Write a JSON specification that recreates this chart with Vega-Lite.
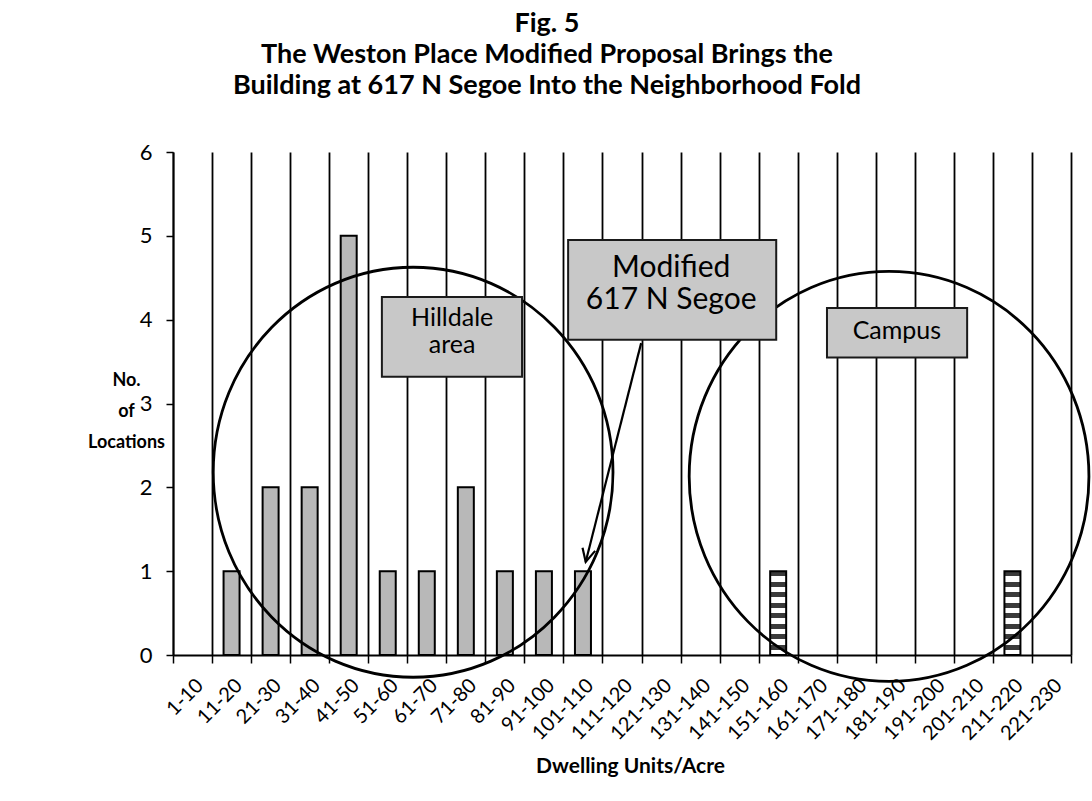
{
  "$schema": "https://vega.github.io/schema/vega-lite/v6.json",
  "width": 898,
  "height": 503,
  "autosize": {"type": "none"},
  "padding": {"left": 173, "top": 152, "right": 21, "bottom": 146},
  "background": "white",
  "config": {
    "view": {"stroke": null},
    "font": "Lato"
  },
  "title": {
    "text": [
      "Fig. 5",
      "The Weston Place Modified Proposal Brings the",
      "Building at 617 N Segoe Into the Neighborhood Fold"
    ],
    "font": "Lato",
    "fontSize": 27,
    "fontWeight": "bold",
    "lineHeight": 31,
    "color": "black",
    "anchor": "middle",
    "frame": "group",
    "dx": -75,
    "offset": 41
  },
  "datasets": {
    "bins": [
      {"range": "1-10", "count": 0, "group": "neighborhood"},
      {"range": "11-20", "count": 1, "group": "neighborhood"},
      {"range": "21-30", "count": 2, "group": "neighborhood"},
      {"range": "31-40", "count": 2, "group": "neighborhood"},
      {"range": "41-50", "count": 5, "group": "neighborhood"},
      {"range": "51-60", "count": 1, "group": "neighborhood"},
      {"range": "61-70", "count": 1, "group": "neighborhood"},
      {"range": "71-80", "count": 2, "group": "neighborhood"},
      {"range": "81-90", "count": 1, "group": "neighborhood"},
      {"range": "91-100", "count": 1, "group": "neighborhood"},
      {"range": "101-110", "count": 1, "group": "neighborhood"},
      {"range": "111-120", "count": 0, "group": "neighborhood"},
      {"range": "121-130", "count": 0, "group": "neighborhood"},
      {"range": "131-140", "count": 0, "group": "neighborhood"},
      {"range": "141-150", "count": 0, "group": "neighborhood"},
      {"range": "151-160", "count": 1, "group": "campus"},
      {"range": "161-170", "count": 0, "group": "campus"},
      {"range": "171-180", "count": 0, "group": "campus"},
      {"range": "181-190", "count": 0, "group": "campus"},
      {"range": "191-200", "count": 0, "group": "campus"},
      {"range": "201-210", "count": 0, "group": "campus"},
      {"range": "211-220", "count": 1, "group": "campus"},
      {"range": "221-230", "count": 0, "group": "campus"}
    ],
    "areas": [
      {"area": "Hilldale", "du": 62.0, "count": 2.18},
      {"area": "Campus", "du": 183.9, "count": 2.13}
    ],
    "notes": [
      {"key": "hilldale", "label": "Hilldale\narea", "du0": 54.0, "du1": 89.9, "c0": 3.32, "c1": 4.27, "du": 72.0, "count": 4.02},
      {"key": "modified", "label": "Modified\n617 N Segoe", "du0": 101.7, "du1": 155.0, "c0": 3.76, "c1": 4.95, "du": 128.1, "count": 4.62},
      {"key": "campus", "label": "Campus", "du0": 168.0, "du1": 203.9, "c0": 3.55, "c1": 4.14, "du": 185.9, "count": 3.87}
    ],
    "pointer": [
      {"du0": 120.4, "c0": 3.72, "du1": 106.2, "c1": 1.11}
    ]
  },
  "layer": [
    {
      "data": {"name": "bins"},
      "mark": {"type": "bar", "width": 16, "stroke": "black", "strokeWidth": 2},
      "encoding": {
        "x": {
          "field": "range",
          "type": "nominal",
          "sort": null,
          "scale": {"paddingInner": 0, "paddingOuter": 0},
          "axis": {
            "title": "Dwelling Units/Acre",
            "titleFont": "Lato",
            "titleFontSize": 21,
            "titleFontWeight": "bold",
            "titleColor": "black",
            "titleBaseline": "alphabetic",
            "titleAlign": "center",
            "titleX": 457,
            "titleY": 117,
            "labelAngle": -45,
            "labelFont": "Lato",
            "labelFontSize": 20,
            "labelColor": "black",
            "labelPadding": 12,
            "tickBand": "extent",
            "grid": true,
            "gridColor": "black",
            "gridOpacity": 1,
            "gridWidth": 1.8,
            "domainColor": "black",
            "domainWidth": 1.8,
            "tickColor": "black",
            "tickWidth": 1.5,
            "tickSize": 8
          }
        },
        "y": {
          "field": "count",
          "type": "quantitative",
          "scale": {"domain": [0, 6]},
          "axis": {
            "values": [0, 1, 2, 3, 4, 5, 6],
            "grid": false,
            "title": ["No.", "of", "Locations"],
            "titleFont": "Lato",
            "titleFontSize": 18,
            "titleFontWeight": "bold",
            "titleColor": "black",
            "titleAngle": 0,
            "titleAlign": "center",
            "titleBaseline": "alphabetic",
            "titleLineHeight": 31,
            "titleX": -47,
            "titleY": 233,
            "labelFont": "Lato",
            "labelFontSize": 22,
            "labelColor": "black",
            "labelPadding": 14,
            "domainColor": "black",
            "domainWidth": 1.8,
            "tickColor": "black",
            "tickWidth": 1.5,
            "tickSize": 7
          }
        },
        "opacity": {"condition": {"test": "datum.count === 0", "value": 0}, "value": 1},
        "fill": {
          "condition": {
            "test": "datum.group === 'campus'",
            "value": {
              "gradient": "linear",
              "x1": 0, "y1": 0, "x2": 0, "y2": 1,
              "stops": [
                {"offset": 0.0, "color": "#3a3a3a"}, {"offset": 0.0625, "color": "#3a3a3a"},
                {"offset": 0.0625, "color": "#ffffff"}, {"offset": 0.125, "color": "#ffffff"},
                {"offset": 0.125, "color": "#3a3a3a"}, {"offset": 0.1875, "color": "#3a3a3a"},
                {"offset": 0.1875, "color": "#ffffff"}, {"offset": 0.25, "color": "#ffffff"},
                {"offset": 0.25, "color": "#3a3a3a"}, {"offset": 0.3125, "color": "#3a3a3a"},
                {"offset": 0.3125, "color": "#ffffff"}, {"offset": 0.375, "color": "#ffffff"},
                {"offset": 0.375, "color": "#3a3a3a"}, {"offset": 0.4375, "color": "#3a3a3a"},
                {"offset": 0.4375, "color": "#ffffff"}, {"offset": 0.5, "color": "#ffffff"},
                {"offset": 0.5, "color": "#3a3a3a"}, {"offset": 0.5625, "color": "#3a3a3a"},
                {"offset": 0.5625, "color": "#ffffff"}, {"offset": 0.625, "color": "#ffffff"},
                {"offset": 0.625, "color": "#3a3a3a"}, {"offset": 0.6875, "color": "#3a3a3a"},
                {"offset": 0.6875, "color": "#ffffff"}, {"offset": 0.75, "color": "#ffffff"},
                {"offset": 0.75, "color": "#3a3a3a"}, {"offset": 0.8125, "color": "#3a3a3a"},
                {"offset": 0.8125, "color": "#ffffff"}, {"offset": 0.875, "color": "#ffffff"},
                {"offset": 0.875, "color": "#3a3a3a"}, {"offset": 0.9375, "color": "#3a3a3a"},
                {"offset": 0.9375, "color": "#ffffff"}, {"offset": 1.0, "color": "#ffffff"}
              ]
            }
          },
          "value": "#b8b8b8"
        }
      }
    },
    {
      "layer": [
        {
          "data": {"name": "areas"},
          "mark": {
            "type": "point",
            "shape": "M -0.975 0 A 0.975 1 0 1 0 0.975 0 A 0.975 1 0 1 0 -0.975 0 Z",
            "size": 168100,
            "filled": false,
            "stroke": "black",
            "strokeWidth": 2.8,
            "opacity": 1
          },
          "encoding": {
            "x": {"field": "du", "type": "quantitative", "scale": {"domain": [0.5, 230.5]}, "axis": null},
            "y": {"field": "count", "type": "quantitative", "scale": {"domain": [0, 6]}, "axis": null}
          }
        },
        {
          "data": {"name": "pointer"},
          "mark": {"type": "rule", "stroke": "black", "strokeWidth": 2.2},
          "encoding": {
            "x": {"field": "du0", "type": "quantitative", "scale": {"domain": [0.5, 230.5]}, "axis": null},
            "y": {"field": "c0", "type": "quantitative", "scale": {"domain": [0, 6]}, "axis": null},
            "x2": {"field": "du1"},
            "y2": {"field": "c1"}
          }
        },
        {
          "data": {"name": "pointer"},
          "mark": {
            "type": "point",
            "shape": "M -0.5 -1 L 0 0 L 0.5 -1",
            "size": 676,
            "angle": 14,
            "filled": false,
            "stroke": "black",
            "strokeWidth": 2.2,
            "opacity": 1
          },
          "encoding": {
            "x": {"field": "du1", "type": "quantitative", "scale": {"domain": [0.5, 230.5]}, "axis": null},
            "y": {"field": "c1", "type": "quantitative", "scale": {"domain": [0, 6]}, "axis": null}
          }
        },
        {
          "data": {"name": "notes"},
          "mark": {"type": "rect", "fill": "#c8c8c8", "stroke": "#1a1a1a", "strokeWidth": 2},
          "encoding": {
            "x": {"field": "du0", "type": "quantitative", "scale": {"domain": [0.5, 230.5]}, "axis": null},
            "x2": {"field": "du1"},
            "y": {"field": "c0", "type": "quantitative", "scale": {"domain": [0, 6]}, "axis": null},
            "y2": {"field": "c1"}
          }
        },
        {
          "data": {"name": "notes"},
          "mark": {
            "type": "text",
            "font": "Lato",
            "lineBreak": "\n",
            "align": "center",
            "baseline": "middle",
            "color": "black"
          },
          "encoding": {
            "x": {"field": "du", "type": "quantitative", "scale": {"domain": [0.5, 230.5]}, "axis": null},
            "y": {"field": "count", "type": "quantitative", "scale": {"domain": [0, 6]}, "axis": null},
            "text": {"field": "label"},
            "size": {"condition": {"test": "datum.key === 'modified'", "value": 30}, "value": 25},
            "lineHeight": {"condition": {"test": "datum.key === 'modified'", "value": 36}, "value": 30}
          }
        }
      ]
    }
  ],
  "resolve": {"scale": {"x": "independent", "y": "independent"}, "axis": {"x": "independent", "y": "independent"}}
}
